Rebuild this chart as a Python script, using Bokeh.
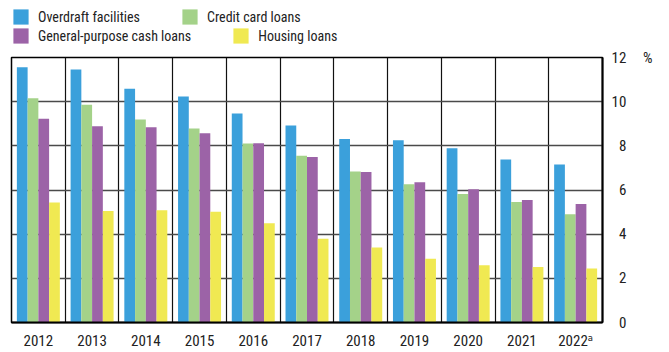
import numpy as np
from bokeh.plotting import figure
from bokeh.layouts import column
from bokeh.models import (Range1d, FixedTicker, Legend, LegendItem,
                          ColumnDataSource)
from bokeh.transform import dodge
from bokeh.embed import file_html
from bokeh.resources import INLINE

# ---- data ----
years = ["2012", "2013", "2014", "2015", "2016", "2017", "2018", "2019",
         "2020", "2021", "2022\u1d43"]
overdraft = [11.56, 11.46, 10.59, 10.23, 9.46, 8.92, 8.31, 8.25, 7.89, 7.38, 7.16]
credit_card = [10.16, 9.86, 9.19, 8.78, 8.11, 7.55, 6.84, 6.26, 5.82, 5.46, 4.90]
general_cash = [9.23, 8.89, 8.84, 8.57, 8.12, 7.49, 6.81, 6.35, 6.03, 5.55, 5.37]
housing = [5.43, 5.05, 5.08, 5.02, 4.50, 3.79, 3.40, 2.89, 2.59, 2.51, 2.44]
series_names = ["Overdraft facilities", "Credit card loans",
                "General-purpose cash loans", "Housing loans"]
colors = ["#3ba0db", "#a4d289", "#9c63a7", "#f0e952"]
y_ticks = [0, 2, 4, 6, 8, 10, 12]
y_tick_labels = ["\u20070", "\u20072", "\u20074", "\u20076", "\u20078", "10",
                 "12\u2003\u2005%"]

FONT = "'Roboto Condensed', 'Liberation Sans Narrow', 'DejaVu Sans Condensed', sans-serif"

W = 669
LEG_H = 46
H = 352 - LEG_H
LEFT, TOP, RIGHT, BOTTOM = 11, 57 - LEG_H, 67, 29

n = len(years)
src = ColumnDataSource(dict(x=list(range(n)), a=overdraft, b=credit_card,
                            c=general_cash, d=housing))

p = figure(width=W, height=H, x_range=Range1d(-0.5, n - 0.5),
           y_range=Range1d(0, 12), y_axis_location="right",
           output_backend="svg", toolbar_location=None,
           min_border_left=LEFT, min_border_top=TOP, min_border_right=RIGHT,
           min_border_bottom=BOTTOM)
p.background_fill_color = "white"
p.border_fill_color = "white"
p.outline_line_color = "black"
p.outline_line_width = 1.5

keys = ["a", "b", "c", "d"]
offsets = [-0.3, -0.1, 0.1, 0.3]
for key, off, col in zip(keys, offsets, colors):
    p.vbar(x=dodge("x", off, range=p.x_range), top=key, width=0.2,
           source=src, fill_color=col, line_color=None)

# x axis
xa = p.xaxis[0]
xa.ticker = FixedTicker(ticks=list(range(n)))
xa.major_label_overrides = {i: years[i] for i in range(n)}
xa.major_tick_out = 0
xa.major_tick_in = 0
xa.minor_tick_out = 0
xa.minor_tick_in = 0
xa.axis_line_width = 2
xa.axis_line_color = "black"
xa.major_label_text_font = FONT
xa.major_label_text_font_size = "15px"
xa.major_label_text_color = "#222222"
xa.major_label_standoff = 9

# y axis (right)
ya = p.yaxis[0]
ya.ticker = FixedTicker(ticks=y_ticks)
ya.major_label_overrides = {t: s for t, s in zip(y_ticks, y_tick_labels)}
ya.major_tick_out = 0
ya.major_tick_in = 0
ya.minor_tick_out = 0
ya.minor_tick_in = 0
ya.axis_line_width = 2
ya.axis_line_color = "black"
ya.major_label_text_font = FONT
ya.major_label_text_font_size = "15px"
ya.major_label_text_color = "#222222"
ya.major_label_standoff = 9

# grids
p.xgrid.ticker = FixedTicker(ticks=list(np.arange(1, n) - 0.5))
p.xgrid.grid_line_color = "#111111"
p.xgrid.grid_line_width = 1.2
p.ygrid.ticker = FixedTicker(ticks=y_ticks)
p.ygrid.grid_line_color = "#4a4a4a"
p.ygrid.grid_line_width = 1.5

# ---- legend strip (separate figure above the chart) ----
# the legend figure's ranges are far away from the data so its bars stay hidden
lp = figure(width=W, height=LEG_H, x_range=Range1d(1000, 1001),
            y_range=Range1d(1000, 1001),
            x_axis_location=None, y_axis_location=None,
            output_backend="svg", toolbar_location=None,
            min_border_left=0, min_border_right=0, min_border_top=0,
            min_border_bottom=0)
lp.outline_line_color = None
lp.xgrid.visible = False
lp.ygrid.visible = False
lp.background_fill_color = "white"
lp.border_fill_color = "white"

leg_r = [lp.vbar(x="x", top=k, width=0.2, source=src, fill_color=c,
                 line_color=None) for k, c in zip(keys, colors)]

def make_legend(idx, y, spacing):
    items = [LegendItem(label=series_names[i], renderers=[leg_r[i]]) for i in idx]
    return Legend(items=items, location=(0, y), orientation="horizontal",
                  glyph_width=19, glyph_height=19, label_standoff=8,
                  spacing=spacing, padding=0, margin=0,
                  border_line_alpha=0, background_fill_alpha=0,
                  label_text_font=FONT, label_text_font_size="14px",
                  label_text_color="#222222", label_height=19)

lp.add_layout(make_legend([0, 1], LEG_H - 26, 40), "center")
lp.add_layout(make_legend([2, 3], LEG_H - 45, 40), "center")

layout = column(lp, p, spacing=0)
open("out.html", "w").write(file_html(layout, INLINE))
